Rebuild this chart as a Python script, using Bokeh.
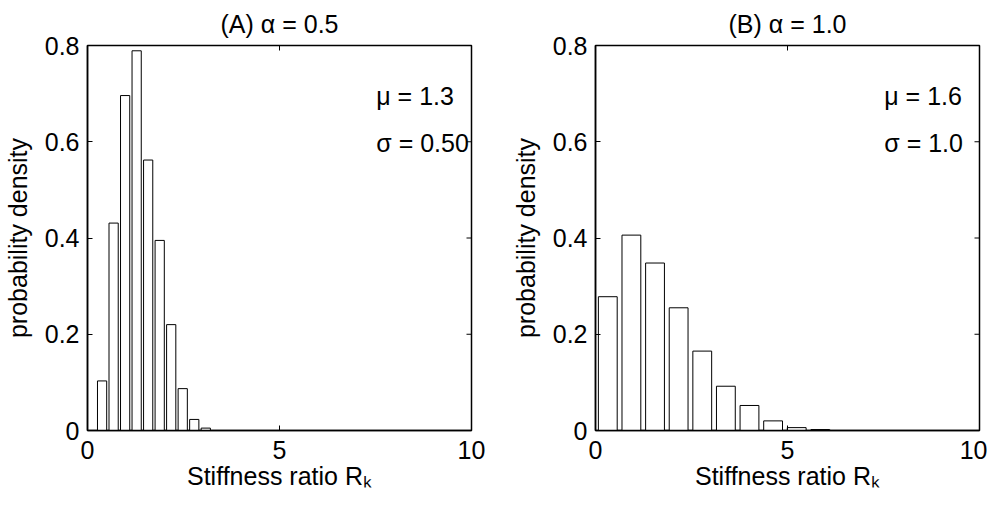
import math
from bokeh.plotting import figure
from bokeh.layouts import row
from bokeh.models import Range1d, FixedTicker, Label
from bokeh.embed import file_html
from bokeh.resources import INLINE

# Panel A (alpha = 0.5)
a_centers = [0.38, 0.68, 0.98, 1.28, 1.58, 1.88, 2.18, 2.48, 2.78, 3.08]
a_density = [0.103, 0.431, 0.696, 0.789, 0.562, 0.395, 0.220, 0.087, 0.023, 0.005]
a_width = 0.24
a_title = "(A) \u03b1 = 0.5"
a_mu = "\u03bc = 1.3"
a_sigma = "\u03c3 = 0.50"

# Panel B (alpha = 1.0)
b_centers = [0.32, 0.935, 1.55, 2.165, 2.78, 3.395, 4.01, 4.625, 5.24, 5.855]
b_density = [0.278, 0.406, 0.348, 0.255, 0.165, 0.092, 0.052, 0.020, 0.006, 0.002]
b_width = 0.49
b_title = "(B) \u03b1 = 1.0"
b_mu = "\u03bc = 1.6"
b_sigma = "\u03c3 = 1.0"

x_ticks = [0, 5, 10]
y_ticks = [0, 0.2, 0.4, 0.6, 0.8]
y_tick_labels = ["0", "0.2", "0.4", "0.6", "0.8"]
x_label = "Stiffness ratio R\u2096"
y_label = "probability density"

FONT = "Liberation Sans"
FS = "25px"
XMAX = 10
YMAX = 0.8


def make_panel(centers, density, width, title, mu, sigma, w, bl, br):
    p = figure(width=w, height=500, output_backend="svg", toolbar_location=None,
               x_range=Range1d(0, XMAX), y_range=Range1d(0, YMAX),
               min_border_left=bl, min_border_right=br,
               min_border_top=44, min_border_bottom=70)
    p.title.text = title
    p.title.text_font = FONT
    p.title.text_font_size = FS
    p.title.text_font_style = "normal"
    p.title.text_color = "black"
    p.title.align = "center"
    p.title.standoff = 15
    p.grid.visible = False
    p.outline_line_color = "black"
    p.outline_line_width = 1.5
    p.outline_line_alpha = 1.0
    p.background_fill_color = "white"
    p.border_fill_color = "white"

    p.vbar(x=centers, top=density, bottom=0, width=width,
           fill_color="white", line_color="black", line_width=1)

    # mirrored inward ticks on the top and right edges (clipped to the frame)
    p.scatter(x=x_ticks, y=[YMAX] * len(x_ticks), marker="dash", angle=math.pi / 2,
              size=10, line_color="black", line_width=1)
    p.scatter(x=[XMAX] * len(y_ticks), y=y_ticks, marker="dash",
              size=10, line_color="black", line_width=1)

    p.xaxis.ticker = FixedTicker(ticks=x_ticks)
    p.yaxis.ticker = FixedTicker(ticks=y_ticks)
    p.yaxis.major_label_overrides = {t: s for t, s in zip(y_ticks, y_tick_labels)}
    for ax in p.xaxis + p.yaxis:
        ax.major_tick_in = 5
        ax.major_tick_out = 0
        ax.minor_tick_in = 0
        ax.minor_tick_out = 0
        ax.axis_line_color = "black"
        ax.axis_line_width = 1.5
        ax.major_tick_line_color = "black"
        ax.major_label_text_font = FONT
        ax.major_label_text_font_size = FS
        ax.major_label_text_color = "black"
        ax.axis_label_text_font = FONT
        ax.axis_label_text_font_size = FS
        ax.axis_label_text_font_style = "normal"
        ax.axis_label_text_color = "black"
    p.xaxis.major_label_standoff = 10
    p.yaxis.major_label_standoff = 8
    p.xaxis.axis_label = x_label
    p.xaxis.axis_label_standoff = 0
    p.yaxis.axis_label = y_label
    p.yaxis.axis_label_standoff = 10

    p.add_layout(Label(x=7.52, y=0.695, text=mu, text_font=FONT, text_font_size=FS,
                       text_baseline="middle", text_color="black"))
    p.add_layout(Label(x=7.52, y=0.598, text=sigma, text_font=FONT, text_font_size=FS,
                       text_baseline="middle", text_color="black"))
    return p


pa = make_panel(a_centers, a_density, a_width, a_title, a_mu, a_sigma, 508, 84, 37)
pb = make_panel(b_centers, b_density, b_width, b_title, b_mu, b_sigma, 479, 84, 8)

layout = row(pa, pb)
open("out.html", "w").write(file_html(layout, INLINE))
